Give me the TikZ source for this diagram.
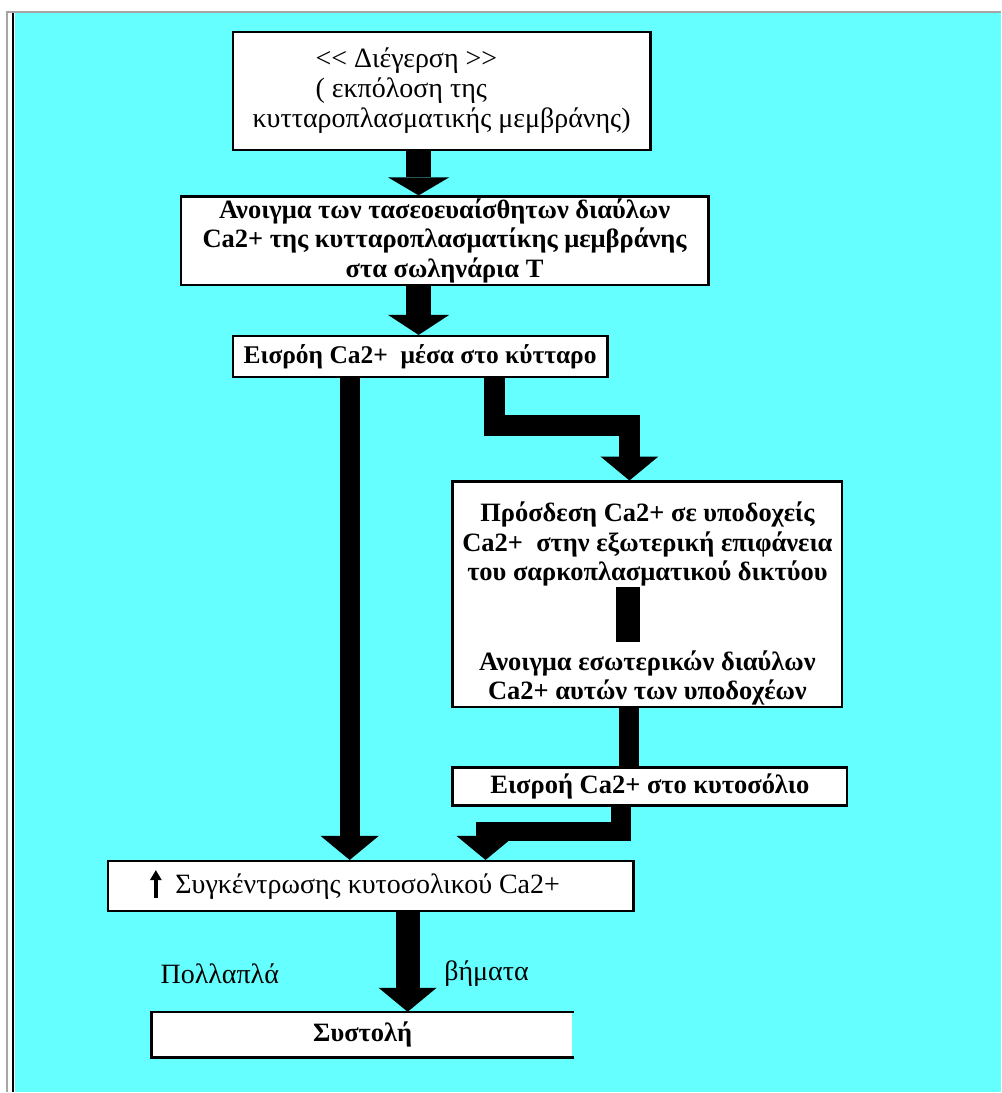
\documentclass[tikz,border=0pt]{standalone}
\usepackage{fontspec}
\setmainfont{Liberation Serif}
\usetikzlibrary{arrows.meta}
\definecolor{sky}{RGB}{102,255,255}

\begin{document}
\begin{tikzpicture}[x=1pt, y=-1pt,
  font=\fontsize{28}{30}\selectfont,
  box/.style={draw, line width=2.5pt, fill=white, inner sep=2pt},
  bbox/.style={box, font=\fontsize{26.5}{29.5}\selectfont\bfseries, align=center},
  flow/.style={line width=#1, line join=miter,
               -{Triangle[width=58pt, length=24pt, line width=0pt]}},
  flow/.default=21pt,
  shaft/.style={line width=#1},
]
\fill[white] (0,0) rectangle (1002,1093);
\fill[sky] (15,13) rectangle (1002,1093);
\draw[gray!70, line width=1.5pt] (7,1093) -- (7,12) -- (1002,12);
\draw[line width=2pt] (13.5,13) -- (13.5,1093);
\useasboundingbox (0,0) rectangle (1002,1093);

\node[box, minimum width=418pt, minimum height=118pt, align=left] (excite) at (442,91)
  {\hspace*{63pt}<\kern0pt< Διέγερση >\kern0pt>\\\hspace*{63pt}( εκπόλοση της\\κυτταροπλασματικής μεμβράνης)};
\node[bbox, minimum width=528pt, minimum height=87pt] (open) at (445,241)
  {Ανοιγμα των τασεοευαίσθητων διαύλων\\Ca2+ της κυτταροπλασματίκης μεμβράνης\\στα σωληνάρια Τ};
\node[bbox, minimum width=375pt, minimum height=41pt, font=\fontsize{25.5}{29}\selectfont\bfseries]
  (incell) at (420.5,357) {Εισρόη Ca2+~ μέσα στο κύτταρο};
\node[bbox, minimum width=390pt, minimum height=220pt] (bind) at (648,595)
  {\rule{0pt}{38pt}Πρόσδεση Ca2+ σε υποδοχείς\\Ca2+~ στην εξωτερική επιφάνεια\\του σαρκοπλασματικού δικτύου\\[60pt]
   Ανοιγμα εσωτερικών διαύλων\\Ca2+ αυτών των υποδοχέων};
\fill (617,588) rectangle (641,643);
\node[bbox, minimum width=395pt, minimum height=38pt] (inflow) at (650.5,787)
  {Εισροή Ca2+ στο κυτοσόλιο};
\node[box, minimum width=526pt, minimum height=50pt] (conc) at (371,887)
  {\hspace*{24pt}Συγκέντρωσης κυτοσολικού Ca2+\hspace*{30pt}};
\draw[line width=3.5pt, -{Triangle[width=12pt, length=10pt, line width=0pt]}]
  (156,899) -- (156,871);
\node[bbox, draw=none, minimum width=420pt, minimum height=43pt] (contr) at (363,1035.5)
  {Συστολή};
\draw[line width=2.5pt] (contr.north east) -- (contr.north west)
  -- (contr.south west) -- (contr.south east);

\node (many) at (220,975) {Πολλαπλά};
\node (steps) at (487,975) {βήματα};

% block arrows
\draw[flow=25pt, -{Triangle[width=61pt, length=18pt, line width=0pt]}]
  ([xshift=-23pt]excite.south) -- ([xshift=-23pt]excite.south |- open.north);
\draw[flow=25pt, -{Triangle[width=61pt, length=20pt, line width=0pt]}]
  ([xshift=-26pt]open.south) -- ([xshift=-26pt]open.south |- incell.north);
\draw[flow=20pt] ([xshift=-70.5pt]incell.south) -- ([xshift=-70.5pt]incell.south |- conc.north);
\draw[flow] ([xshift=74.5pt]incell.south) -- ++(0,47) -| ([xshift=-18pt]bind.north);
\draw[shaft=20pt] ([xshift=-18pt]bind.south) -- ([xshift=-18pt]bind.south |- inflow.north);
\draw[flow=20pt] ([xshift=-28.5pt]inflow.south) -- ++(0,25) -| ([xshift=115pt]conc.north);
\draw[flow=24pt] ([xshift=37pt]conc.south) -- ([xshift=37pt]conc.south |- contr.north);
\end{tikzpicture}
\end{document}
